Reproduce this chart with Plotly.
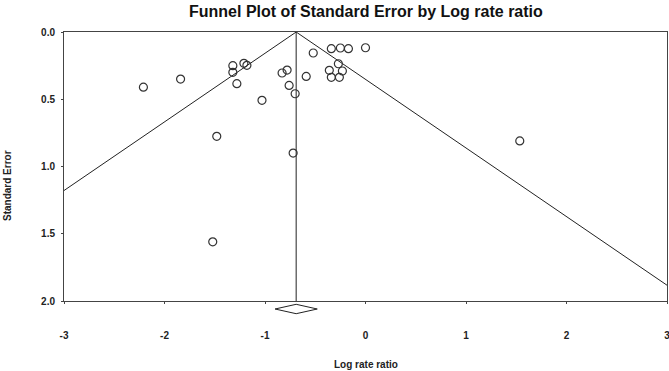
import plotly.graph_objects as go

# ---- data ----
log_rate_ratio = [-2.21, -1.84, -1.32, -1.32, -1.21, -1.18, -1.28, -1.03, -1.48, -1.52,
                  -0.83, -0.78, -0.76, -0.70, -0.72, -0.52, -0.59, -0.34, -0.25, -0.17,
                  0.00, -0.27, -0.36, -0.23, -0.34, -0.26, 1.535]
standard_error = [0.41, 0.35, 0.25, 0.30, 0.233, 0.248, 0.384, 0.508, 0.776, 1.56,
                  0.305, 0.283, 0.397, 0.459, 0.90, 0.156, 0.33, 0.124, 0.119, 0.124,
                  0.117, 0.236, 0.285, 0.29, 0.337, 0.337, 0.81]
summary_estimate = -0.69
summary_ci = [-0.90, -0.48]
z_value = 1.96
se_limits = [0.0, 2.0]
x_ticks = [-3, -2, -1, 0, 1, 2, 3]
y_ticks = [0.0, 0.5, 1.0, 1.5, 2.0]

W, H = 669, 371
ML, MR, MT, MB = 64, 2, 32, 70
PW, PH = W - ML - MR, H - MT - MB

def py(pix):  # pixel y (from top) -> paper y
    return (H - MB - pix) / PH

def px(pix):
    return (pix - ML) / PW

FONT = "Liberation Sans, Arial, sans-serif"
ink = "#222222"

fig = go.Figure()

# funnel lines
fig.add_trace(go.Scatter(
    x=[summary_estimate - z_value * se_limits[1], summary_estimate, summary_estimate + z_value * se_limits[1]],
    y=[se_limits[1], se_limits[0], se_limits[1]],
    mode="lines", line=dict(color=ink, width=1), hoverinfo="skip"))
# vertical line at summary estimate
fig.add_trace(go.Scatter(
    x=[summary_estimate, summary_estimate], y=se_limits,
    mode="lines", line=dict(color=ink, width=1), hoverinfo="skip"))
# studies
fig.add_trace(go.Scatter(
    x=log_rate_ratio, y=standard_error, mode="markers",
    marker=dict(symbol="circle-open", size=8, color="#333333", line=dict(width=1.2))))

# summary diamond below axis
yc, hh = py(309), 4.7 / PH
lo, hi = summary_ci
fig.add_shape(type="path", xref="x", yref="paper",
              path=f"M {lo},{yc} L {summary_estimate},{yc + hh} L {hi},{yc} L {summary_estimate},{yc - hh} Z",
              line=dict(color=ink, width=1), fillcolor="rgba(0,0,0,0)")

fig.update_layout(
    width=W, height=H, margin=dict(l=ML, r=MR, t=MT, b=MB, autoexpand=False),
    paper_bgcolor="white", plot_bgcolor="white", showlegend=False,
    font=dict(family=FONT, color=ink),
    xaxis=dict(range=[-3, 3], tickvals=x_ticks, ticktext=[str(v) for v in x_ticks],
               showgrid=False, zeroline=False, showline=True, mirror=True,
               linecolor="#444444", linewidth=1, ticks="outside", ticklen=2, tickcolor="#444444",
               ticklabelstandoff=23, ticklabeloverflow="allow",
               tickfont=dict(size=10, family=FONT, weight="bold")),
    yaxis=dict(range=[2.0, 0.0], tickvals=y_ticks, ticktext=[f"{v:.1f}" for v in y_ticks],
               showgrid=False, zeroline=False, showline=True, mirror=True,
               linecolor="#444444", linewidth=1, ticks="outside", ticklen=2, tickcolor="#444444",
               ticklabelstandoff=4, ticklabeloverflow="allow",
               tickfont=dict(size=10, family=FONT, weight="bold")),
    annotations=[
        dict(text="<b>Funnel Plot of Standard Error by Log rate ratio</b>", x=0.5, y=py(11),
             xref="paper", yref="paper", showarrow=False, xanchor="center", yanchor="middle",
             font=dict(size=16, family=FONT, color="#111111")),
        dict(text="<b>Log rate ratio</b>", x=0.5, y=py(365), xref="paper", yref="paper",
             showarrow=False, xanchor="center", yanchor="middle", font=dict(size=10, family=FONT)),
        dict(text="<b>Standard Error</b>", x=px(7), y=py(186), xref="paper", yref="paper",
             showarrow=False, xanchor="center", yanchor="middle", textangle=-90,
             font=dict(size=10, family=FONT)),
    ],
)

fig.write_html("out.html", config={"displayModeBar": False},
               post_script="document.body.style.margin='0';document.body.style.overflow='hidden';")
